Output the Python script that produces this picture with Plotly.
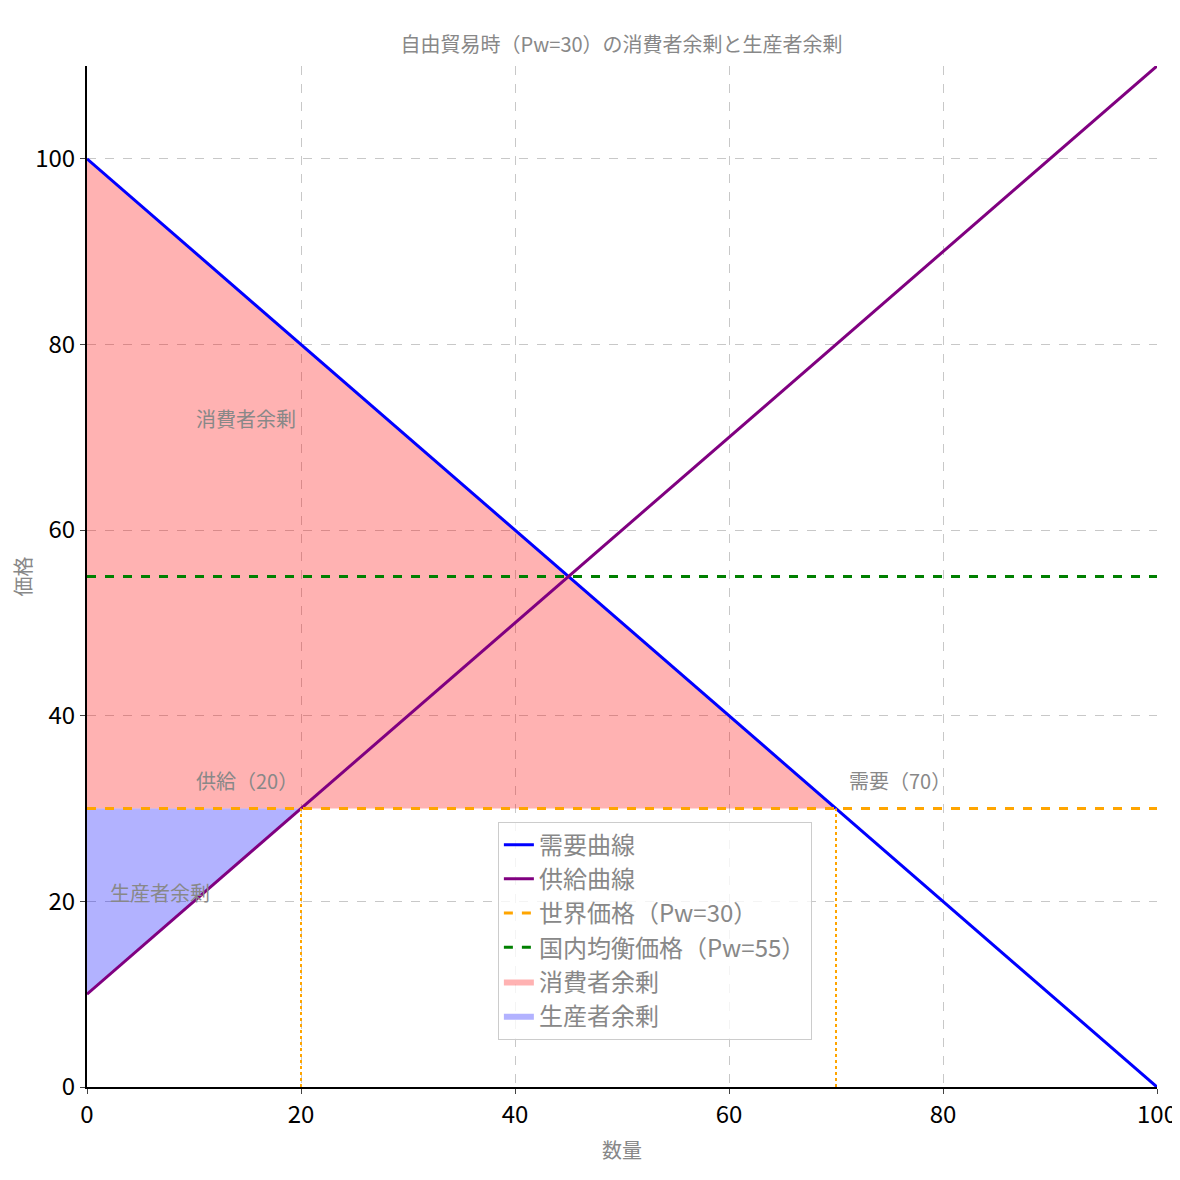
import plotly.graph_objects as go

# データ
quantity = [0, 20, 45, 70, 100]
demand_price = [100, 80, 55, 30, 0]
supply_q = [0, 20, 45, 70, 100]
supply_price = [10, 30, 55, 80, 110]
world_price = 30
domestic_price = 55
supply_at_world = 20
demand_at_world = 70

cs_x = [0, 70, 0]
cs_y = [100, 30, 30]
ps_x = [0, 20, 0]
ps_y = [30, 30, 10]

font = "Noto Sans CJK JP"
grey = "#888888"

fig = go.Figure()

fig.add_trace(go.Scatter(x=cs_x, y=cs_y, fill="toself", mode="lines",
                         line=dict(width=0), fillcolor="rgba(255,0,0,0.3)",
                         name="消費者余剰", legendrank=5))
fig.add_trace(go.Scatter(x=ps_x, y=ps_y, fill="toself", mode="lines",
                         line=dict(width=0), fillcolor="rgba(0,0,255,0.3)",
                         name="生産者余剰", legendrank=6))
fig.add_trace(go.Scatter(x=quantity, y=demand_price, mode="lines",
                         line=dict(color="blue", width=3), name="需要曲線", legendrank=1))
fig.add_trace(go.Scatter(x=supply_q, y=supply_price, mode="lines",
                         line=dict(color="purple", width=3), name="供給曲線", legendrank=2))
fig.add_trace(go.Scatter(x=[0, 100], y=[world_price] * 2, mode="lines",
                         line=dict(color="orange", width=3, dash="dash"),
                         name="世界価格（Pw=30）", legendrank=3))
fig.add_trace(go.Scatter(x=[0, 100], y=[domestic_price] * 2, mode="lines",
                         line=dict(color="green", width=3, dash="dash"),
                         name="国内均衡価格（Pw=55）", legendrank=4))
for q in [supply_at_world, demand_at_world]:
    fig.add_trace(go.Scatter(x=[q, q], y=[0, world_price], mode="lines",
                             line=dict(color="orange", width=2, dash="dot"),
                             showlegend=False))

for x, y, t in [(10, 72, "消費者余剰"), (2, 21, "生産者余剰"),
                (10, 33, "供給（20）"), (71, 33, "需要（70）")]:
    fig.add_annotation(x=x, y=y, text=t, showarrow=False, xanchor="left",
                       font=dict(size=20, color=grey, family=font))

axis = dict(showgrid=True, gridcolor="#c8c8c8", griddash="dash", zeroline=False,
            showline=True, linecolor="black", linewidth=2, ticks="outside",
            automargin=False,
            tickfont=dict(size=24, color="black", family=font))
fig.update_xaxes(axis, range=[0, 100], dtick=20,
                 title=dict(text="数量", font=dict(size=20, color=grey, family=font)))
fig.update_yaxes(axis, range=[0, 110], dtick=20,
                 title=dict(text="価格", font=dict(size=20, color=grey, family=font)))

fig.update_layout(
    width=1180, height=1180,
    plot_bgcolor="white", paper_bgcolor="white",
    margin=dict(l=79, r=31, t=58, b=101),
    title=dict(text="自由貿易時（Pw=30）の消費者余剰と生産者余剰", x=0.52, y=0.975,
               font=dict(size=20, color=grey, family=font)),
    legend=dict(x=0.384, y=0.26, xanchor="left", yanchor="top",
                bgcolor="rgba(255,255,255,0.8)", bordercolor="#cccccc", borderwidth=1,
                font=dict(size=24, color=grey, family=font), traceorder="normal"),
    font=dict(family=font),
)

fig.write_html("out.html")
